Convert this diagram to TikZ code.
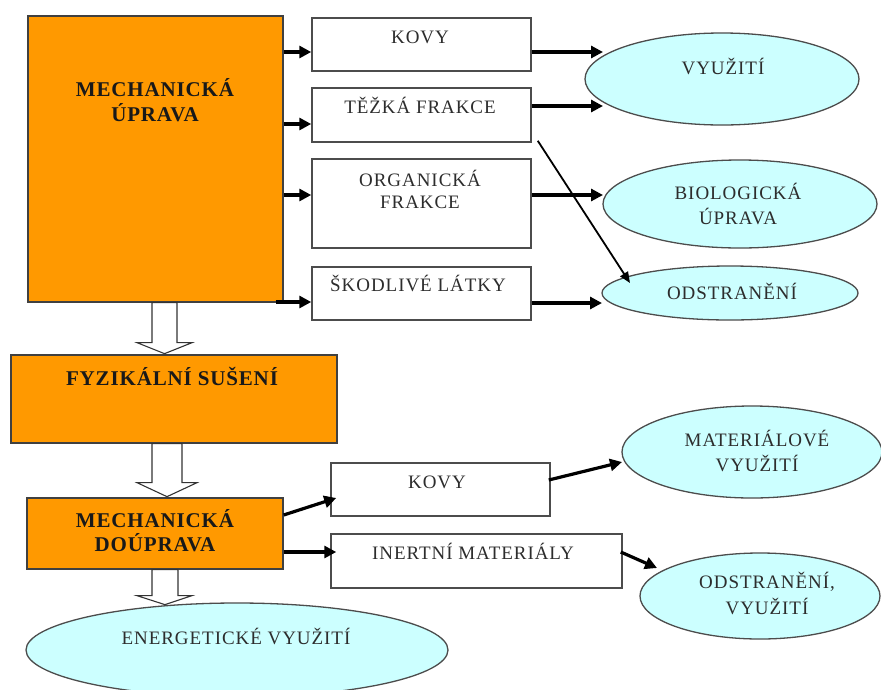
\documentclass[tikz,border=0pt]{standalone}
\usepackage{fontspec}
\setmainfont{Liberation Serif}
\newfontfamily\labfont[LetterSpace=5]{Liberation Serif}
\newfontfamily\blabfont[LetterSpace=4]{Liberation Serif}
\usetikzlibrary{arrows.meta,shapes.geometric,calc}
\definecolor{orangec}{RGB}{255,153,0}
\definecolor{cyanc}{RGB}{204,255,255}
\definecolor{inkc}{RGB}{45,45,45}
\begin{document}
\begin{tikzpicture}[x=1pt,y=-1pt,
  orangebox/.style={draw=black!75, line width=1.3pt, fill=orangec, inner sep=0pt},
  whitebox/.style={draw=black!70, line width=1.5pt, fill=white, inner sep=0pt},
  oval/.style={ellipse, draw=black!70, line width=1.3pt, fill=cyanc, inner sep=0pt},
  lab/.style={font=\labfont\fontsize{19}{23}\selectfont, text=inkc, anchor=base, inner sep=0pt},
  blab/.style={font=\blabfont\bfseries\fontsize{21}{25}\selectfont, text=black!90, anchor=base, inner sep=0pt},
  flow/.style={line width=3.2pt, -{Triangle[length=12pt,width=12pt]}},
  thinflow/.style={line width=1.8pt, -{Triangle[length=11pt,width=9pt]}},
  hollow/.style={draw=black!80, line width=1.1pt, fill=white}]
\useasboundingbox (0,0) rectangle (881,689);

% boxes
\node[orangebox, minimum width=255pt, minimum height=286pt] (mu) at (155.5,159) {};
\node[whitebox, minimum width=219pt, minimum height=53pt] (k1) at (421.5,44.5) {};
\node[whitebox, minimum width=219pt, minimum height=54pt] (t1) at (421.5,115) {};
\node[whitebox, minimum width=219pt, minimum height=89pt] (o1) at (421.5,203.5) {};
\node[whitebox, minimum width=219pt, minimum height=53pt] (s1) at (421.5,293.5) {};
\node[orangebox, minimum width=326pt, minimum height=88pt] (fs) at (174,399) {};
\node[orangebox, minimum width=256pt, minimum height=71pt] (md) at (155,533.5) {};
\node[whitebox, minimum width=219pt, minimum height=53pt] (k2) at (440.5,489.5) {};
\node[whitebox, minimum width=291pt, minimum height=54pt] (im) at (476.5,561) {};

% ellipses
\node[oval, minimum width=274pt, minimum height=92pt] (e1) at (722,79) {};
\node[oval, minimum width=274pt, minimum height=88pt] (e2) at (740,204) {};
\node[oval, minimum width=256pt, minimum height=54pt] (e3) at (730,293) {};
\node[oval, minimum width=260pt, minimum height=92pt] (e4) at (752,452) {};
\node[oval, minimum width=240pt, minimum height=86pt] (e5) at (760,596) {};
\node[oval, minimum width=422pt, minimum height=94pt] (e6) at (237,650) {};

% texts
\node[blab] (mu1) at (155,96) {MECHANICKÁ};
\node[blab] (mu2) at (155,121) {ÚPRAVA};
\node[lab] (k1t) at (420,43) {KOVY};
\node[lab] (t1t) at (420,113) {TĚŽKÁ FRAKCE};
\node[lab] (o1a) at (420,186) {ORGANICKÁ};
\node[lab] (o1b) at (420,208) {FRAKCE};
\node[lab] (s1t) at (418,291) {ŠKODLIVÉ LÁTKY};
\node[lab] (e1t) at (723,74) {VYUŽITÍ};
\node[lab] (e2a) at (738,199) {BIOLOGICKÁ};
\node[lab] (e2b) at (738,224) {ÚPRAVA};
\node[lab] (e3t) at (732,299) {ODSTRANĚNÍ};
\node[blab] (fst) at (172,385) {FYZIKÁLNÍ SUŠENÍ};
\node[blab] (md1) at (155,527) {MECHANICKÁ};
\node[blab] (md2) at (155,551) {DOÚPRAVA};
\node[lab] (k2t) at (437,488) {KOVY};
\node[lab] (imt) at (473,559) {INERTNÍ MATERIÁLY};
\node[lab] (e4a) at (757,446) {MATERIÁLOVÉ};
\node[lab] (e4b) at (757,471) {VYUŽITÍ};
\node[lab] (e5a) at (767,588) {ODSTRANĚNÍ,};
\node[lab] (e5b) at (767,614) {VYUŽITÍ};
\node[lab] (e6t) at (236,644) {ENERGETICKÉ VYUŽITÍ};

% arrows from first orange box
\draw[flow] (mu.east |- 0,52) -- (k1.west |- 0,52);
\draw[flow] (mu.east |- 0,124) -- (t1.west |- 0,124);
\draw[flow] (mu.east |- 0,195) -- (o1.west |- 0,195);
\draw[flow] ($(mu.east |- 0,302)+(-8,0)$) -- (s1.west |- 0,302);

% arrows to ellipses
\draw[flow] (k1.east |- 0,52) -- ($(e1.center)+(-119,-27)$);
\draw[flow] (t1.east |- 0,106) -- ($(e1.center)+(-119,27)$);
\draw[flow] (o1.east |- 0,195) -- ($(e2.center)+(-137,-9)$);
\draw[flow] (s1.east |- 0,303) -- ($(e3.center)+(-128,10)$);
\draw[thinflow] ($(t1.south east)+(6,-2)$) -- ($(e3.center)+(-100,-10)$);

% lower arrows
\draw[flow] ($(md.east)+(0,-18.5)$) -- ($(k2.west)+(6,8.5)$);
\draw[flow] ($(md.east)+(0,18.5)$) -- ($(im.west)+(6,-9)$);
\draw[flow] ($(k2.east)+(-2,-9.5)$) -- ($(e4.center)+(-130,10)$);
\draw[flow] ($(im.east)+(-2,-9)$) -- ($(e5.center)+(-103,-28)$);

% hollow block arrows
\draw[hollow] ($(mu.south)+(-3.5,0)$) -- ++(0,40) -- ++(-15,0) -- ++(27.5,11) -- ++(27.5,-11) -- ++(-15,0) -- ++(0,-40) -- cycle;
\draw[hollow] ($(fs.south)+(-22,0)$) -- ++(0,39) -- ++(-15,0) -- ++(30,14) -- ++(30,-14) -- ++(-15,0) -- ++(0,-39) -- cycle;
\draw[hollow] ($(md.south)+(-3,0)$) -- ++(0,26) -- ++(-15,0) -- ++(28,9) -- ++(27,-9) -- ++(-14,0) -- ++(0,-26) -- cycle;
\end{tikzpicture}
\end{document}
